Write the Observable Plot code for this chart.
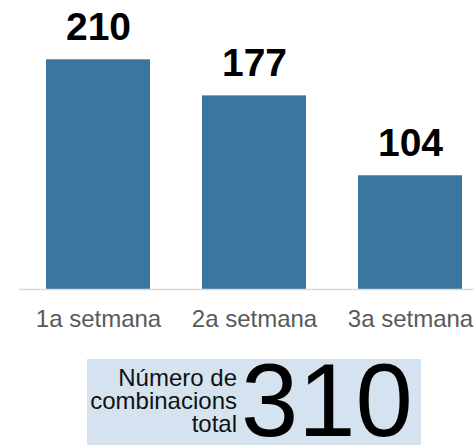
<!DOCTYPE html>
<html>
<head>
<meta charset="utf-8">
<script src="https://cdn.jsdelivr.net/npm/d3@7"></script>
<script src="https://cdn.jsdelivr.net/npm/@observablehq/plot@0.6"></script>
<style>
  html, body { margin: 0; padding: 0; background: #fff; overflow: hidden; }
  body { width: 474px; height: 445px; position: relative; font-family: "Liberation Sans", Arial, sans-serif; }
  #chart { position: absolute; left: 0; top: 0; }
  #box { position: absolute; left: 87px; top: 359px; width: 334px; height: 86px; background: #d5e3f0; }
  #boxlabel { position: absolute; right: 184px; top: 6.6px; font-size: 24px; line-height: 23.3px; text-align: right; color: #111; white-space: nowrap; }
  #boxvalue { position: absolute; left: 154px; top: 2px; font-size: 103px; line-height: 80px; color: #000; white-space: nowrap; }
</style>
</head>
<body>
<div id="chart"></div>
<div id="box"><div id="boxlabel"></div><div id="boxvalue"></div></div>
<script>
const weeks = ["1a setmana", "2a setmana", "3a setmana"];
const values = [210, 177, 104];
const totalLabelLines = ["Número de", "combinacions", "total"];
const totalValue = 310;

const data = weeks.map((w, i) => ({week: w, value: values[i]}));

const chart = Plot.plot({
  width: 474,
  height: 340,
  marginLeft: 19,
  marginRight: 0,
  marginTop: 0,
  marginBottom: 51,
  style: {fontFamily: "Liberation Sans, Arial, sans-serif", background: "transparent"},
  x: {domain: weeks, range: [19, 490], paddingInner: 0.331, paddingOuter: 0.1656, label: null},
  y: {domain: [0, 210], range: [289, 59.3], axis: null},
  marks: [
    Plot.barY(data, {x: "week", y: "value", fill: "#3a76a0"}),
    Plot.ruleY([0], {stroke: "#d9d9d9", strokeWidth: 1.5}),
    Plot.text(data, {x: "week", y: "value", text: d => String(d.value), dy: -19.5, lineAnchor: "bottom",
      fontSize: 39, fontWeight: "bold", fill: "#000"}),
    Plot.axisX({tickSize: 0, tickPadding: 20.5, fontSize: 24, color: "#595959", label: null})
  ]
});
document.getElementById("chart").append(chart);
document.getElementById("boxlabel").innerHTML = totalLabelLines.join("<br>");
document.getElementById("boxvalue").textContent = String(totalValue);
</script>
</body>
</html>
